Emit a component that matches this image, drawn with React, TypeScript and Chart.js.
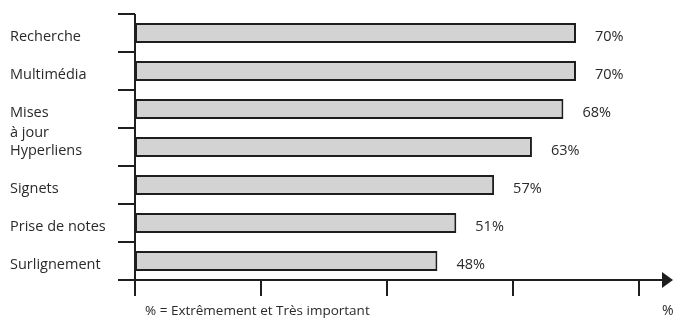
import React, { useEffect, useRef } from "react";
import { Chart, registerables } from "chart.js";

Chart.register(...registerables);

const categories: string[][] = [
  ["Recherche"],
  ["Multimédia"],
  ["Mises", "à jour"],
  ["Hyperliens"],
  ["Signets"],
  ["Prise de notes"],
  ["Surlignement"],
];
const values = [70, 70, 68, 63, 57, 51, 48];
const xTicks = [0, 20, 40, 60, 80];
const caption = "% = Extrêmement et Très important";
const unitLabel = "%";

const FONT = '"Open Sans", sans-serif';
const INK = "#1e1e1e";

const decorPlugin = {
  id: "decor",
  afterDatasetsDraw(chart: any) {
    const ctx = chart.ctx as CanvasRenderingContext2D;
    const xs = chart.scales.x;
    const ys = chart.scales.y;
    const area = chart.chartArea;
    const n = categories.length;
    const step = (area.bottom - area.top) / n;
    ctx.save();
    ctx.strokeStyle = INK;
    ctx.lineWidth = 2;
    ctx.lineCap = "butt";
    // vertical axis
    ctx.beginPath();
    ctx.moveTo(area.left, area.top);
    ctx.lineTo(area.left, area.bottom + 16);
    ctx.stroke();
    // category ticks
    for (let b = 0; b <= n; b++) {
      const y = Math.round(area.top + b * step);
      ctx.beginPath();
      ctx.moveTo(area.left - 17, y);
      ctx.lineTo(area.left, y);
      ctx.stroke();
    }
    // horizontal axis
    const yb = area.bottom;
    ctx.beginPath();
    ctx.moveTo(area.left - 17, yb);
    ctx.lineTo(664, yb);
    ctx.stroke();
    // arrow
    ctx.fillStyle = INK;
    ctx.beginPath();
    ctx.moveTo(662, yb - 8);
    ctx.lineTo(673, yb);
    ctx.lineTo(662, yb + 8);
    ctx.closePath();
    ctx.fill();
    // x ticks
    xTicks.forEach((v) => {
      const x = Math.round(xs.getPixelForValue(v));
      ctx.beginPath();
      ctx.moveTo(x, yb);
      ctx.lineTo(x, yb + 16);
      ctx.stroke();
    });
    // category labels
    ctx.fillStyle = "#2a2a2a";
    ctx.font = `14.5px ${FONT}`;
    ctx.textAlign = "left";
    ctx.textBaseline = "middle";
    categories.forEach((lines, i) => {
      const cy = ys.getPixelForValue(i);
      lines.forEach((t, k) => {
        ctx.fillText(t, 10, cy + 4 + k * 20);
      });
    });
    // value labels
    const meta = chart.getDatasetMeta(0);
    meta.data.forEach((bar: any, i: number) => {
      ctx.fillText(values[i] + "%", bar.x + 19, bar.y + 4);
    });
    // caption
    ctx.font = `13.5px ${FONT}`;
    ctx.fillText(caption, xs.getPixelForValue(0) + 10, 311);
    ctx.font = `14px ${FONT}`;
    ctx.fillText(unitLabel, 662, 311);
    ctx.restore();
  },
};

export default function App() {
  const ref = useRef<HTMLCanvasElement | null>(null);
  useEffect(() => {
    if (!ref.current) return;
    const chart = new Chart(ref.current, {
      type: "bar",
      data: {
        labels: categories.map((c) => c.join(" ")),
        datasets: [
          {
            data: values,
            backgroundColor: "#d3d3d3",
            borderColor: INK,
            borderWidth: 2,
            borderSkipped: false,
            barPercentage: 0.52,
            categoryPercentage: 1,
          },
        ],
      },
      options: {
        indexAxis: "y",
        animation: false,
        responsive: true,
        maintainAspectRatio: false,
        layout: { padding: { left: 135, right: 34, top: 14, bottom: 39 } },
        plugins: { legend: { display: false }, tooltip: { enabled: false } },
        scales: {
          x: { display: false, min: 0, max: 80 },
          y: { display: false },
        },
      },
      plugins: [decorPlugin],
    });
    return () => chart.destroy();
  }, []);
  return (
    <div style={{ position: "fixed", left: 0, top: 0, width: 673, height: 319, background: "#fff" }}>
      <canvas ref={ref} />
    </div>
  );
}
